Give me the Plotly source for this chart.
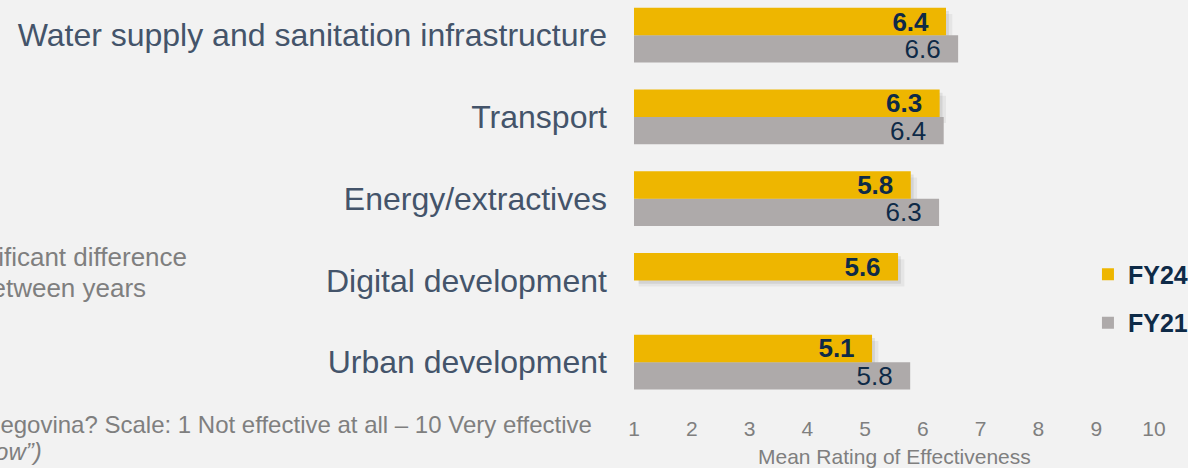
import plotly.graph_objects as go

# ---- data ----
categories = [
    "Urban development",
    "Digital development",
    "Energy/extractives",
    "Transport",
    "Water supply and sanitation infrastructure",
]
fy24 = [5.12, 5.57, 5.79, 6.29, 6.40]
fy21 = [5.78, None, 6.28, 6.36, 6.61]
x_ticks = [1, 2, 3, 4, 5, 6, 7, 8, 9, 10]
series_names = ["FY24", "FY21"]
x_title = "Mean Rating of Effectiveness"

# ---- styles ----
FONT = "Liberation Sans, Arial, sans-serif"
YELLOW = "#EEB600"
GRAY = "#AEAAAA"
NAVY = "#0E2A47"
LABEL = "#44546A"
MUTED = "#7F7F7F"
BG = "#F2F2F2"
BAR_W = 0.334
NB = "\u00a0\u00a0"
SHADOW_BASE = 1.08

fig = go.Figure()

# soft drop shadow under FY24 bars (two layers)
for dx, dy, alpha in [(0.11, 0.075, 0.05), (0.05, 0.04, 0.08)]:
    fig.add_trace(go.Bar(
        y=categories, x=[v + dx - SHADOW_BASE for v in fy24], base=SHADOW_BASE,
        orientation="h", offset=-dy, width=BAR_W,
        marker=dict(color=f"rgba(0,0,0,{alpha})", line=dict(width=0)),
        showlegend=False, hoverinfo="skip",
    ))

fig.add_trace(go.Bar(
    y=categories, x=fy21, name=f"<b>{series_names[1]}</b>",
    legendgroup="b", legendrank=2,
    orientation="h", offset=-BAR_W, width=BAR_W,
    marker=dict(color=GRAY, line=dict(width=0)),
    texttemplate="%{x:.1f}" + NB, textposition="inside",
    insidetextanchor="end", constraintext="none",
    textfont=dict(family=FONT, size=26, color=NAVY),
    hoverinfo="skip",
))
fig.add_trace(go.Bar(
    y=categories, x=fy24, name=f"<b>{series_names[0]}</b>",
    legendgroup="a", legendrank=1,
    orientation="h", offset=0, width=BAR_W,
    marker=dict(color=YELLOW, line=dict(width=0)),
    texttemplate="<b>%{x:.1f}</b>" + NB, textposition="inside",
    insidetextanchor="end", constraintext="none",
    textfont=dict(family=FONT, size=26, color=NAVY),
    hoverinfo="skip",
))

fig.update_layout(
    width=1188, height=468,
    margin=dict(l=634, r=34, t=0, b=65, pad=0, autoexpand=False),
    paper_bgcolor=BG, plot_bgcolor=BG,
    barmode="overlay",
    font=dict(family=FONT, color=MUTED),
    showlegend=True,
    legend=dict(
        x=0.873, y=0.376, xanchor="left", yanchor="top",
        xref="paper", yref="paper",
        bgcolor="rgba(0,0,0,0)", traceorder="grouped",
        font=dict(family=FONT, size=25, color=NAVY),
        itemsizing="constant", tracegroupgap=13,
    ),
    xaxis=dict(
        range=[1, 10], tickvals=x_ticks, ticktext=[str(t) for t in x_ticks],
        showgrid=False, zeroline=False, showline=False, ticks="",
        tickfont=dict(family=FONT, size=21, color=MUTED),
        ticklabelstandoff=11,
        automargin=False, fixedrange=True,
    ),
    yaxis=dict(
        type="category", categoryorder="array", categoryarray=categories,
        range=[-0.5, 4.43],
        showgrid=False, zeroline=False, showline=False, ticks="",
        tickfont=dict(family=FONT, size=32, color=LABEL),
        ticklabelstandoff=26,
        automargin=False, fixedrange=True,
    ),
    annotations=[
        dict(text=x_title, xref="paper", yref="paper",
             x=0.5, y=(403 - 456) / 403,
             xanchor="center", yanchor="middle", showarrow=False,
             font=dict(family=FONT, size=21, color=MUTED)),
        dict(text="No significant difference", xref="paper", yref="paper",
             x=(189 - 634) / 520, y=(403 - 257) / 403,
             xanchor="right", yanchor="middle", showarrow=False,
             font=dict(family=FONT, size=26, color=MUTED)),
        dict(text="between years", xref="paper", yref="paper",
             x=(148 - 634) / 520, y=(403 - 288) / 403,
             xanchor="right", yanchor="middle", showarrow=False,
             font=dict(family=FONT, size=26, color=MUTED)),
        dict(text="How effective is the World Bank in Bosnia and Herzegovina? "
                  "Scale: 1 Not effective at all \u2013 10 Very effective",
             xref="paper", yref="paper",
             x=(594 - 634) / 520, y=(403 - 424) / 403,
             xanchor="right", yanchor="middle", showarrow=False,
             font=dict(family=FONT, size=24, color=MUTED)),
        dict(text="<i>(excluding \u201cDon\u2019t know\u201d)</i>",
             xref="paper", yref="paper",
             x=(44 - 634) / 520, y=(403 - 452) / 403,
             xanchor="right", yanchor="middle", showarrow=False,
             font=dict(family=FONT, size=24, color=MUTED)),
    ],
)

fig.write_html("out.html", config={"displayModeBar": False},
               post_script="document.body.style.margin='0px';")
